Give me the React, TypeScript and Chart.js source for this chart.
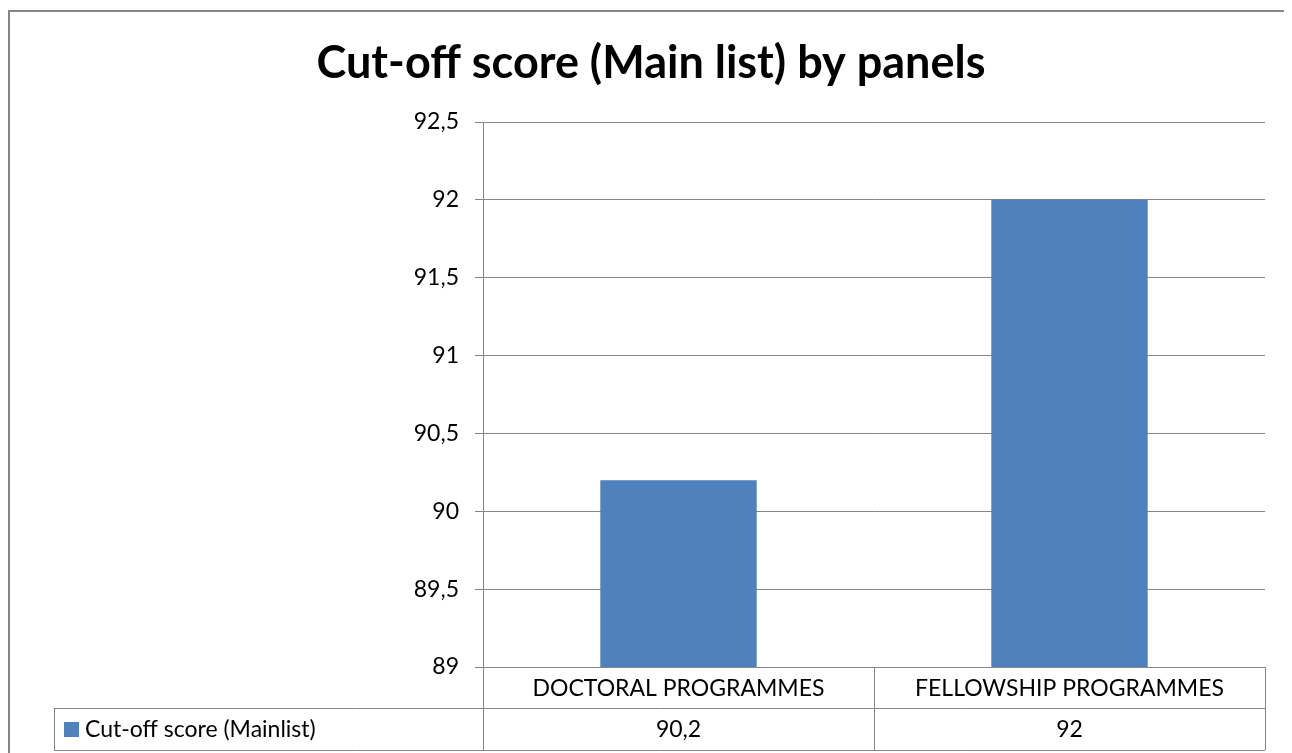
import React, { useEffect, useRef } from "react";
import { Chart, registerables } from "chart.js";

Chart.register(...registerables);

const chartTitle = "Cut-off score (Main list) by panels";
const categories = ["DOCTORAL PROGRAMMES", "FELLOWSHIP PROGRAMMES"];
const seriesName = "Cut-off score (Mainlist)";
const seriesValues = [90.2, 92];
const yMin = 89;
const yMax = 92.5;
const yStep = 0.5;

const FONT = "Lato, 'Open Sans', sans-serif";
const GRAY = "#868686";
const BLUE = "#4F81BD";

const fmt = (v: number) => String(v).replace(".", ",");

const tablePlugin = {
  id: "frameAndTable",
  afterDraw(chart: any) {
    const ctx = chart.ctx as CanvasRenderingContext2D;
    const area = chart.chartArea;
    const xs = chart.scales.x;
    const W = chart.width;
    ctx.save();
    // outer frame
    ctx.strokeStyle = GRAY;
    ctx.lineWidth = 2;
    ctx.beginPath();
    ctx.moveTo(1, chart.height);
    ctx.lineTo(1, 3);
    ctx.lineTo(W, 3);
    ctx.stroke();

    // title
    ctx.fillStyle = "#000";
    ctx.font = `bold 45px ${FONT}`;
    ctx.textAlign = "center";
    ctx.textBaseline = "middle";
    ctx.fillText(chartTitle, 643, 55);

    // table
    const n = categories.length;
    const catW = (area.right - area.left) / n;
    const row1Top = area.bottom;
    const row1Bot = area.bottom + 41;
    const row2Bot = area.bottom + 83;
    const tableLeft = 46;
    ctx.lineWidth = 1;
    ctx.strokeStyle = GRAY;
    ctx.beginPath();
    ctx.moveTo(tableLeft, row1Bot + 0.5);
    ctx.lineTo(area.right, row1Bot + 0.5);
    ctx.moveTo(tableLeft, row2Bot + 0.5);
    ctx.lineTo(area.right, row2Bot + 0.5);
    ctx.moveTo(tableLeft + 0.5, row1Bot);
    ctx.lineTo(tableLeft + 0.5, row2Bot);
    for (let i = 0; i <= n; i++) {
      const x = Math.round(area.left + i * catW) + 0.5;
      ctx.moveTo(x, row1Top);
      ctx.lineTo(x, row2Bot);
    }
    ctx.stroke();

    ctx.font = `23px ${FONT}`;
    ctx.fillStyle = "#000";
    ctx.textAlign = "center";
    ctx.textBaseline = "middle";
    categories.forEach((c, i) => {
      const cx = xs.getPixelForValue(i);
      ctx.fillText(c, cx, (row1Top + row1Bot) / 2 + 1);
      ctx.fillText(fmt(seriesValues[i]), cx, (row1Bot + row2Bot) / 2 + 1);
    });
    // legend key
    ctx.fillStyle = BLUE;
    ctx.fillRect(56, (row1Bot + row2Bot) / 2 - 7, 15, 15);
    ctx.fillStyle = "#000";
    ctx.textAlign = "left";
    ctx.fillText(seriesName, 77, (row1Bot + row2Bot) / 2 + 1);
    ctx.restore();
  },
};

export default function App() {
  const ref = useRef<HTMLCanvasElement>(null);
  useEffect(() => {
    if (!ref.current) return;
    const chart = new Chart(ref.current, {
      type: "bar",
      data: {
        labels: categories,
        datasets: [
          {
            label: seriesName,
            data: seriesValues,
            backgroundColor: BLUE,
            barPercentage: 0.4,
            categoryPercentage: 1,
          },
        ],
      },
      options: {
        animation: false,
        responsive: false,
        layout: { padding: { top: 114, right: 27, bottom: 86, left: 0 } },
        plugins: {
          legend: { display: false },
          title: { display: false },
          tooltip: { enabled: false },
        },
        scales: {
          x: { display: false },
          y: {
            min: yMin,
            max: yMax,
            afterFit: (s: any) => {
              s.width = 475;
            },
            ticks: {
              stepSize: yStep,
              color: "#000",
              padding: 16,
              font: { family: FONT, size: 23 },
              callback: (v: any) => fmt(Number(v)),
            },
            grid: { color: GRAY, tickLength: 8, lineWidth: 1 },
            border: { color: GRAY, width: 1 },
          },
        },
      },
      plugins: [tablePlugin],
    });
    return () => chart.destroy();
  }, []);
  return (
    <canvas
      ref={ref}
      width={1284}
      height={745}
      style={{ display: "block", width: 1284, height: 745 }}
    />
  );
}
